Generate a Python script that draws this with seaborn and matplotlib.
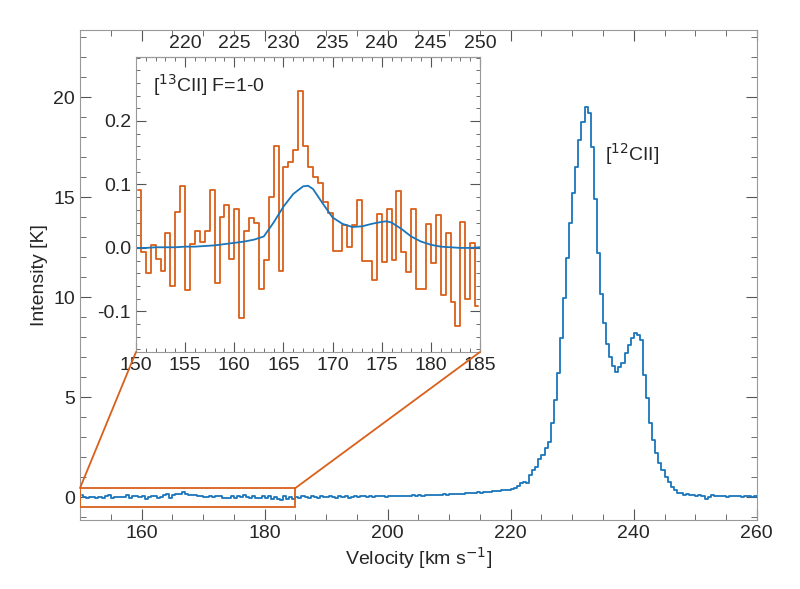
import numpy as np
import pandas as pd
import matplotlib
matplotlib.use("Agg")
import matplotlib.pyplot as plt
import seaborn as sns
from matplotlib.patches import Rectangle, ConnectionPatch
from matplotlib.ticker import MultipleLocator, FixedLocator

sns.set_style("ticks")
plt.rcParams['font.family'] = ['Liberation Sans', 'DejaVu Sans']

BLUE = "#1a75bb"
ORANGE = "#d9601a"
FS = 14

# [13CII] segment (150-185 km/s, 0.5 km/s bins)
c13_vel_start = 150.0
c13_vals = [0.091, -0.006, -0.039, 0.004, -0.018, -0.037, 0.024, -0.060, 0.056, 0.097,
            -0.067, 0.006, 0.027, 0.009, 0.027, 0.091, -0.055, 0.048, 0.067, -0.018,
            0.061, -0.111, 0.027, 0.047, 0.039, -0.064, -0.019, 0.080, 0.161, -0.036,
            0.128, 0.136, 0.155, 0.248, 0.160, 0.127, 0.112, 0.102, 0.073, 0.055,
            -0.005, -0.005, 0.036, 0.002, 0.036, 0.075, -0.021, -0.021, -0.050, 0.053,
            -0.022, 0.061, -0.019, 0.089, -0.007, -0.038, 0.061, -0.064, -0.064, 0.037,
            -0.023, 0.052, -0.074, 0.023, -0.085, -0.123, 0.041, -0.081, 0.007, -0.092]
# 185-220.5 km/s
mid_vals = [0.02, -0.05, 0.04, 0.01, -0.03, 0.05, 0.00, -0.06, 0.03, 0.02,
            -0.02, 0.06, 0.01, -0.04, 0.03, 0.00, 0.05, -0.03, 0.02, 0.04,
            -0.01, 0.03, 0.06, 0.00, 0.04, -0.02, 0.05, 0.03, 0.07, 0.02,
            0.06, 0.04, 0.05, 0.03, 0.06, 0.04, 0.07, 0.05, 0.08, 0.06,
            0.09, 0.07, 0.10, 0.08, 0.11, 0.09, 0.12, 0.11, 0.13, 0.12,
            0.14, 0.13, 0.16, 0.15, 0.17, 0.18, 0.19, 0.20, 0.21, 0.23,
            0.22, 0.25, 0.27, 0.26, 0.29, 0.30, 0.32, 0.33, 0.35, 0.37, 0.40]
# 221-248.5 km/s
peak_vals = [0.43, 0.55, 0.68, 0.77, 0.72, 1.10, 1.35, 1.52, 1.88, 2.10,
             2.43, 2.77, 3.68, 4.85, 6.22, 7.93, 9.97, 11.97, 13.68, 15.18,
             16.48, 17.85, 18.73, 19.48, 19.22, 17.52, 14.90, 12.18, 10.13, 8.68,
             7.63, 7.02, 6.55, 6.27, 6.52, 6.68, 7.18, 7.60, 7.93, 8.22,
             8.10, 7.85, 6.10, 4.93, 3.72, 2.85, 2.18, 1.68, 1.35, 1.02,
             0.77, 0.52, 0.35, 0.18, 0.18, 0.10, 0.15]
# 249-260 km/s
tail_vals = [0.08, 0.12, 0.05, 0.10, 0.06, -0.10, 0.02, 0.09, 0.04, 0.07,
             0.03, 0.06, 0.02, 0.05, 0.04, 0.03, 0.05, 0.02, 0.04, 0.03,
             0.02, 0.03, 0.02]

# Model (blue) for the inset
model_vel = [150, 151, 152, 153, 154, 155, 156, 157, 158, 159, 160, 161, 162, 163, 164,
             165, 166, 167, 167.5, 168, 169, 170, 171, 172, 173, 174, 175, 175.5, 176,
             177, 178, 179, 180, 181, 182, 183, 184, 185]
model_vals = [0.0, 0.0, 0.001, 0.001, 0.001, 0.002, 0.002, 0.003, 0.004, 0.006, 0.008,
              0.010, 0.013, 0.018, 0.040, 0.065, 0.085, 0.097, 0.098, 0.093, 0.070,
              0.048, 0.038, 0.033, 0.034, 0.038, 0.041, 0.042, 0.040, 0.030, 0.018,
              0.010, 0.005, 0.002, 0.001, 0.0, 0.0, 0.001]

full_vals = c13_vals + mid_vals + peak_vals + tail_vals
full_vel = c13_vel_start + 0.5 * np.arange(len(full_vals)) + 0.25
main_df = pd.DataFrame({"v": full_vel, "T": full_vals})
c13_df = pd.DataFrame({"v": c13_vel_start + 0.5 * np.arange(len(c13_vals)) + 0.25, "T": c13_vals})
model_df = pd.DataFrame({"v": model_vel, "T": model_vals})

fig = plt.figure(figsize=(8, 5.89), dpi=100)
ax = fig.add_axes([0.1, 0.117, 0.846, 0.832])
sns.lineplot(data=main_df, x="v", y="T", ax=ax, color=BLUE, lw=1.3, drawstyle="steps-mid")
ax.set_xlim(150, 260)
ax.set_ylim(-1.15, 23.35)
ax.xaxis.set_major_locator(MultipleLocator(20))
ax.xaxis.set_minor_locator(MultipleLocator(5))
ax.yaxis.set_major_locator(MultipleLocator(5))
ax.yaxis.set_minor_locator(MultipleLocator(1))
ax.tick_params(which="both", direction="in", top=True, right=True, labelsize=FS, color="#555555")
ax.tick_params(which="major", length=8)
ax.tick_params(which="minor", length=4)
for s in ax.spines.values():
    s.set_color("#999999")
ax.set_xlabel("Velocity [km s$^{-1}$]", fontsize=FS, labelpad=2)
ax.set_ylabel("Intensity [K]", fontsize=FS)
ax.text(235.3, 16.8, r"[$^{12}$CII]", fontsize=FS)

rect = Rectangle((150, -0.5), 35, 0.95, fill=False, ec=ORANGE, lw=1.3, zorder=5)
ax.add_patch(rect)

ins = fig.add_axes([0.17, 0.4024, 0.43, 0.501])
sns.lineplot(data=c13_df, x="v", y="T", ax=ins, color=ORANGE, lw=1.3, drawstyle="steps-mid")
sns.lineplot(data=model_df, x="v", y="T", ax=ins, color=BLUE, lw=1.3)
ins.set_xlim(150, 185)
ins.set_ylim(-0.164, 0.301)
ins.set_xlabel("")
ins.set_ylabel("")
ins.xaxis.set_major_locator(MultipleLocator(5))
ins.xaxis.set_minor_locator(MultipleLocator(1))
ins.yaxis.set_minor_locator(MultipleLocator(0.02))
ins.set_yticks([-0.1, 0.0, 0.1, 0.2])
ins.set_yticklabels(["-0.1", "0.0", "0.1", "0.2"])
ins.tick_params(which="both", direction="in", right=True, labelsize=FS, color="#555555")
ins.tick_params(which="major", length=7)
ins.tick_params(which="minor", length=3)
for s in ins.spines.values():
    s.set_color("#999999")
sec = ins.secondary_xaxis("top", functions=(lambda x: x + 65, lambda x: x - 65))
sec.xaxis.set_major_locator(FixedLocator([220, 225, 230, 235, 240, 245, 250]))
sec.xaxis.set_minor_locator(MultipleLocator(1))
sec.tick_params(which="both", direction="in", labelsize=FS, color="#555555")
sec.tick_params(which="major", length=7)
sec.tick_params(which="minor", length=3)
sec.spines["top"].set_color("#999999")
ins.text(0.05, 0.95, r"[$^{13}$CII] F=1-0", transform=ins.transAxes, fontsize=FS, va="top")

for (xa, xb) in [((150, 0.45), (0, 0)), ((185, 0.45), (1, 0))]:
    cp = ConnectionPatch(xyA=xa, coordsA=ax.transData, xyB=xb, coordsB=ins.transAxes,
                         color=ORANGE, lw=1.3)
    fig.add_artist(cp)

fig.savefig("out.png", dpi=100)
